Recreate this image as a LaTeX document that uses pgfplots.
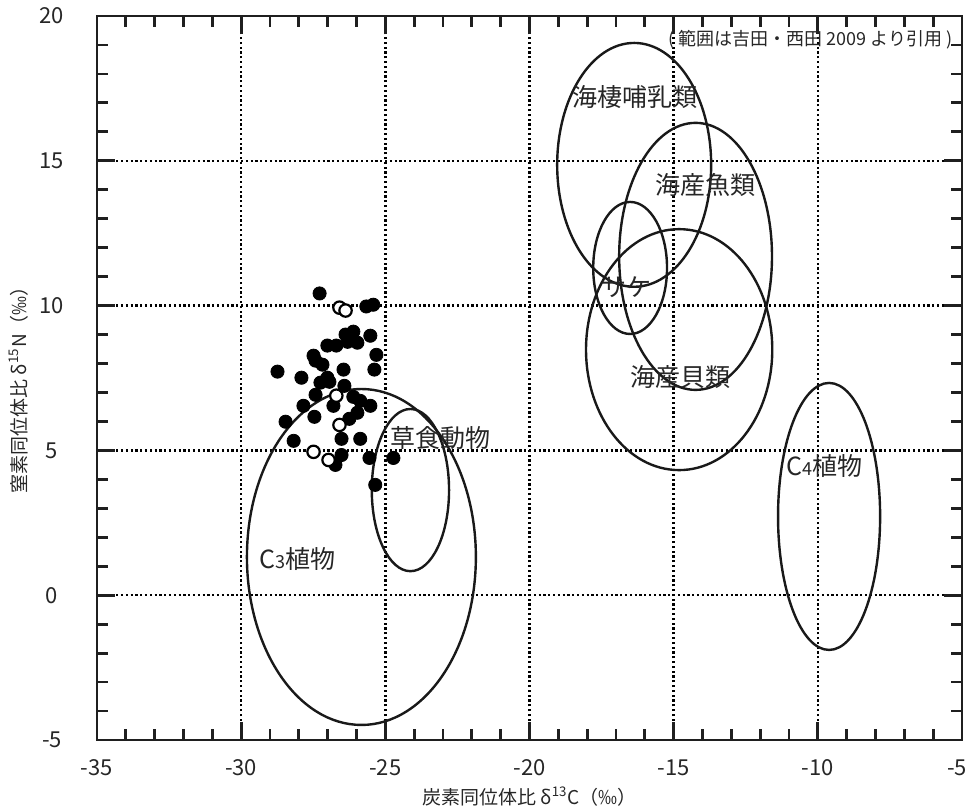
\documentclass[border=0pt]{standalone}
\usepackage{pgfplots}
\usepackage{pgfplotstable}
\pgfplotsset{compat=1.18}
\usepackage{fontspec}
\setmainfont{Noto Sans CJK JP}

\pgfplotstableread{
x y
-27.28 10.42
-25.66 9.97
-25.42 10.03
-26.11 9.10
-26.38 9.00
-25.52 8.96
-27.01 8.62
-26.70 8.62
-26.31 8.75
-25.97 8.72
-27.49 8.27
-27.42 8.10
-25.31 8.30
-27.18 7.96
-28.74 7.72
-26.45 7.79
-25.38 7.79
-27.91 7.51
-27.01 7.51
-26.94 7.37
-27.25 7.34
-26.42 7.23
-27.42 6.92
-27.84 6.54
-26.80 6.54
-26.11 6.85
-25.87 6.71
-25.52 6.54
-28.46 5.99
-27.46 6.16
-25.97 6.30
-26.25 6.09
-28.18 5.33
-26.52 5.40
-25.87 5.40
-26.52 4.84
-26.73 4.50
-25.55 4.74
-24.72 4.74
-25.35 3.81
}\filledpts

\pgfplotstableread{
x y
-26.59 9.93
-26.38 9.83
-26.70 6.89
-26.59 5.88
-27.49 4.95
-26.97 4.67
}\openpts

\begin{document}
\begin{tikzpicture}
\begin{axis}[
  at={(0,0)}, anchor=south west,
  scale only axis, width=432.5pt, height=362pt,
  xmin=-35, xmax=-5, ymin=-5, ymax=20,
  xtick={-35,-30,...,-5}, ytick={-5,0,...,20},
  xticklabels={-35,-30,-25,-20,-15,-10,{-5\hspace*{5pt}}},
  minor x tick num=4, minor y tick num=4,
  xtick pos=both, ytick pos=both,
  tick align=inside,
  major tick length=9pt, minor tick length=5.5pt,
  every tick/.style={line width=1.4pt, black!88},
  axis line style={line width=1.4pt, black!88},
  grid=major,
  major grid style={line width=1.2pt, dash pattern=on 1.1pt off 1.3pt, black},
  /pgf/number format/assume math mode=true,
  ticklabel style={font=\fontsize{11}{13}\selectfont, black!85},
  xticklabel style={anchor=center, yshift=-14pt},
  yticklabel style={anchor=center, xshift=-22.5pt},
  xlabel={炭素同位体比 δ\textsuperscript{13}C（‰）},
  ylabel={窒素同位体比 δ\textsuperscript{15}N（‰）},
  label style={font=\fontsize{9.5}{11}\selectfont, black!85},
  xlabel style={at={(axis description cs:0.5,-0.078)}, anchor=center},
  ylabel style={at={(axis description cs:-0.0902,0.49)}, anchor=center},
  clip=false,
]
% ellipses (ranges)
\draw[line width=1.2pt, black!90] (axis cs:-25.83,1.32) ellipse [x radius=3.97, y radius=5.80];
\draw[line width=1.2pt, black!90] (axis cs:-24.13,3.63) ellipse [x radius=1.34, y radius=2.80];
\draw[line width=1.2pt, black!90] (axis cs:-16.37,14.86) ellipse [x radius=2.67, y radius=4.21];
\draw[line width=1.2pt, black!90] (axis cs:-14.24,11.70) ellipse [x radius=2.65, y radius=4.61];
\draw[line width=1.2pt, black!90] (axis cs:-16.51,11.30) ellipse [x radius=1.28, y radius=2.28];
\draw[line width=1.2pt, black!90] (axis cs:-14.81,8.48) ellipse [x radius=3.23, y radius=4.16];
\draw[line width=1.2pt, black!90] (axis cs:-9.61,2.72) ellipse [x radius=1.77, y radius=4.61];

\addplot[only marks, mark=*, mark size=3.3pt, black, mark options={fill=black, draw=black}] table[x=x,y=y] {\filledpts};
\addplot[only marks, mark=*, mark size=3.1pt, mark options={fill=white, draw=black, line width=1.1pt}] table[x=x,y=y] {\openpts};

\begin{scope}[every node/.style={font=\fontsize{12.5}{14}\selectfont, black!85, inner sep=0pt}]
\node at (axis cs:-16.34,17.19) {海棲哺乳類};
\node at (axis cs:-13.88,14.16) {海産魚類};
\node at (axis cs:-16.62,10.64) {サケ};
\node at (axis cs:-14.78,7.53) {海産貝類};
\node at (axis cs:-23.10,5.43) {草食動物};
\node at (axis cs:-28.06,1.25) {C{\fontsize{9}{9}\selectfont 3}植物};
\node at (axis cs:-9.78,4.46) {C{\fontsize{9}{9}\selectfont 4}植物};
\end{scope}
\node[anchor=east, inner sep=0pt, font=\fontsize{9}{10}\selectfont, black!85] at (axis cs:-5.31,19.17) {( 範囲は吉田・西田 2009 より引用 )};
\end{axis}
\pgfresetboundingbox
\path[use as bounding box] (-48.5pt,-35.5pt) rectangle (435.5pt,370pt);
\end{tikzpicture}
\end{document}
